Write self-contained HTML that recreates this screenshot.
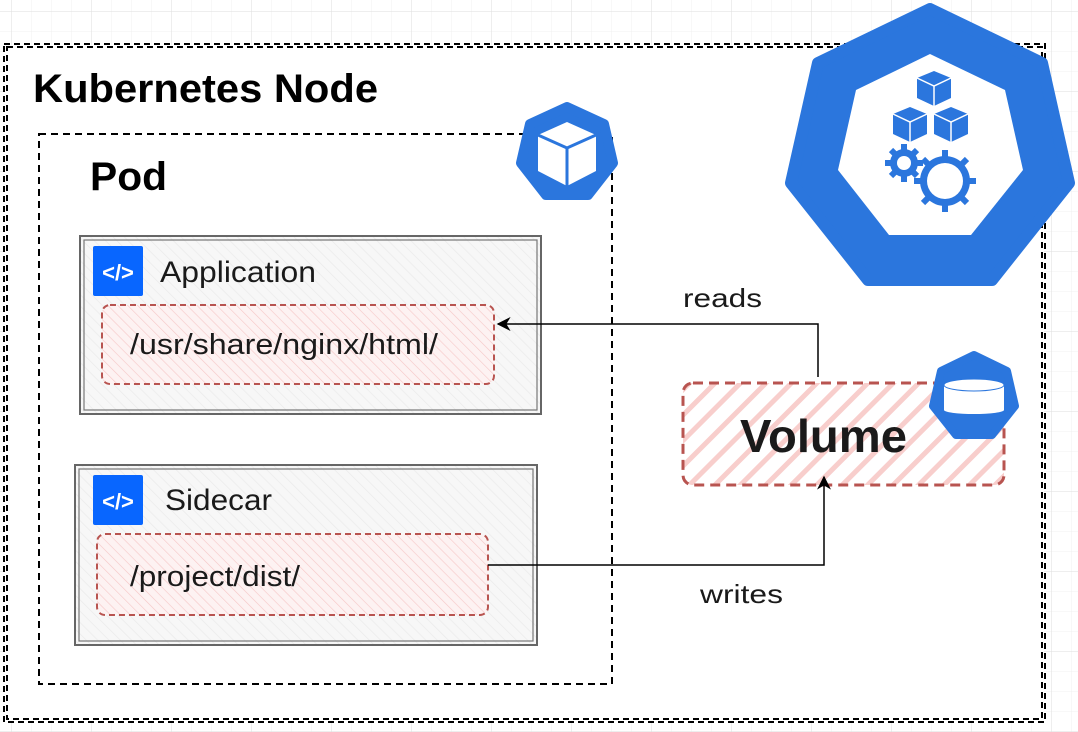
<!DOCTYPE html>
<html><head><meta charset="utf-8"><style>
html,body{margin:0;padding:0;width:1078px;height:732px;overflow:hidden;background:#fff}
svg{display:block}
text{font-family:"Liberation Sans",Arial,sans-serif}
</style></head><body>
<svg width="1078" height="732" viewBox="0 0 1078 732" xmlns="http://www.w3.org/2000/svg">
<defs>
<pattern id="g1" x="12" y="12" width="20" height="20" patternUnits="userSpaceOnUse"><path d="M20 0V20M0 20H20" stroke="#f0f0f0" stroke-width="1" fill="none"/></pattern>
<pattern id="g2" x="12" y="12" width="80" height="80" patternUnits="userSpaceOnUse"><path d="M80 0V80M0 80H80" stroke="#dedede" stroke-width="1" fill="none"/></pattern>
<pattern id="hg" width="8" height="8" patternUnits="userSpaceOnUse" patternTransform="rotate(-45)"><rect width="8" height="8" fill="#f7f7f7"/><line x1="0" y1="0" x2="0" y2="8" stroke="#ebebeb" stroke-width="1.5"/></pattern>
<pattern id="hr" width="7" height="7" patternUnits="userSpaceOnUse" patternTransform="rotate(-45)"><rect width="7" height="7" fill="#fdf2f2"/><line x1="0" y1="0" x2="0" y2="7" stroke="#f6c6c6" stroke-width="1.2"/></pattern>
<pattern id="hv" width="18" height="18" patternUnits="userSpaceOnUse" patternTransform="rotate(45)"><rect width="18" height="18" fill="#fff"/><line x1="0" y1="0" x2="0" y2="18" stroke="#f8cecc" stroke-width="10"/></pattern>
<marker id="ar" viewBox="0 0 10 10" refX="9" refY="5" markerWidth="14" markerHeight="14" orient="auto" markerUnits="userSpaceOnUse"><path d="M0 0L10 5L0 10L3 5Z" fill="#000"/></marker>
</defs>
<rect width="1078" height="732" fill="#fff"/>
<rect width="1078" height="732" fill="url(#g1)"/>
<rect width="1078" height="732" fill="url(#g2)"/>
<!-- node -->
<rect x="5" y="45" width="1039" height="676" fill="#fff"/>
<rect x="4" y="44" width="1041" height="678" fill="none" stroke="#000" stroke-width="2" stroke-dasharray="6 4"/>
<rect x="7" y="47" width="1035" height="672" fill="none" stroke="#000" stroke-width="2" stroke-dasharray="6 4"/>
<text x="33" y="102" font-size="40" font-weight="bold" fill="#000" textLength="345" lengthAdjust="spacingAndGlyphs">Kubernetes Node</text>
<!-- pod -->
<rect x="39" y="134" width="573" height="550" fill="none" stroke="#000" stroke-width="2" stroke-dasharray="7 5"/>
<text x="90" y="190" font-size="40" font-weight="bold" fill="#000" textLength="77" lengthAdjust="spacingAndGlyphs">Pod</text>
<!-- application -->
<rect x="80" y="236" width="461" height="178" fill="url(#hg)" stroke="#666" stroke-width="2"/>
<rect x="84" y="240" width="453" height="170" fill="none" stroke="#777" stroke-width="1.2"/>
<rect x="93" y="246" width="50" height="50" rx="2" fill="#0866ff"/>
<text x="118" y="280" font-size="22" font-weight="bold" fill="#fff" text-anchor="middle">&lt;/&gt;</text>
<text x="160" y="282" font-size="30" fill="#1a1a1a" textLength="156" lengthAdjust="spacingAndGlyphs">Application</text>
<rect x="102" y="305" width="392" height="79" rx="8" fill="url(#hr)" stroke="#b85450" stroke-width="2" stroke-dasharray="6 4"/>
<text x="130" y="354" font-size="29" fill="#1a1a1a" textLength="308" lengthAdjust="spacingAndGlyphs">/usr/share/nginx/html/</text>
<!-- sidecar -->
<rect x="75" y="465" width="462" height="180" fill="url(#hg)" stroke="#666" stroke-width="2"/>
<rect x="79" y="469" width="454" height="172" fill="none" stroke="#777" stroke-width="1.2"/>
<rect x="93" y="475" width="50" height="50" rx="2" fill="#0866ff"/>
<text x="118" y="509" font-size="22" font-weight="bold" fill="#fff" text-anchor="middle">&lt;/&gt;</text>
<text x="165" y="510" font-size="30" fill="#1a1a1a" textLength="107" lengthAdjust="spacingAndGlyphs">Sidecar</text>
<rect x="97" y="534" width="391" height="81" rx="8" fill="url(#hr)" stroke="#b85450" stroke-width="2" stroke-dasharray="6 4"/>
<text x="130" y="586" font-size="29" fill="#1a1a1a" textLength="170" lengthAdjust="spacingAndGlyphs">/project/dist/</text>
<!-- pod icon -->
<polygon points="567,107 604,124 613,163 588,195 546,195 521,163 530,124" fill="#2b76dd" stroke="#2b76dd" stroke-width="10" stroke-linejoin="round"/>
<polygon points="567,122 596,135 596,171 567,186 538,171 538,135" fill="#fff"/>
<polyline points="538,135 567,148 596,135" fill="none" stroke="#2b76dd" stroke-width="3"/>
<line x1="567" y1="148" x2="567" y2="186" stroke="#2b76dd" stroke-width="3"/>
<!-- big icon -->
<polygon points="930,9 1042,63 1069,183 992,280 868,280 791,183 818,63" fill="#2b76dd" stroke="#2b76dd" stroke-width="12" stroke-linejoin="round"/>
<polygon points="930,54 1005,90 1023,170 971,235 889,235 838,170 856,90" fill="#fff"/>
<g fill="#2b76dd">
<polygon points="917,78 934,71 951,78 951,98 934,106 917,98"/>
<polygon points="893,114 910,107 927,114 927,134 910,142 893,134"/>
<polygon points="934,114 951,107 968,114 968,134 951,142 934,134"/>
<circle cx="904" cy="163" r="14"/>
<circle cx="945" cy="181" r="25"/>
</g>
<g stroke="#2b76dd" stroke-width="6" stroke-linecap="butt">
<line x1="904" y1="144" x2="904" y2="182"/><line x1="885" y1="163" x2="923" y2="163"/>
<line x1="891" y1="150" x2="917" y2="176"/><line x1="917" y1="150" x2="891" y2="176"/>
<line x1="945" y1="150" x2="945" y2="212"/><line x1="914" y1="181" x2="976" y2="181"/>
<line x1="923" y1="159" x2="967" y2="203"/><line x1="967" y1="159" x2="923" y2="203"/>
</g>
<circle cx="904" cy="163" r="7" fill="#fff"/>
<circle cx="945" cy="181" r="18" fill="#fff"/>
<polyline points="917,78 934,86 951,78" fill="none" stroke="#fff" stroke-width="1.5"/>
<line x1="934" y1="86" x2="934" y2="106" stroke="#fff" stroke-width="1.5"/>
<polyline points="893,114 910,122 927,114" fill="none" stroke="#fff" stroke-width="1.5"/>
<line x1="910" y1="122" x2="910" y2="142" stroke="#fff" stroke-width="1.5"/>
<polyline points="934,114 951,122 968,114" fill="none" stroke="#fff" stroke-width="1.5"/>
<line x1="951" y1="122" x2="951" y2="142" stroke="#fff" stroke-width="1.5"/>
<!-- volume -->
<rect x="683" y="383" width="321" height="102" rx="10" fill="url(#hv)" stroke="#b85450" stroke-width="3" stroke-dasharray="10 6"/>
<text x="740" y="452" font-size="46" font-weight="bold" fill="#1a1a1a" textLength="167" lengthAdjust="spacingAndGlyphs">Volume</text>
<polygon points="974,355 1007,371 1015,406 992,435 956,435 933,406 941,371" fill="#2b76dd" stroke="#2b76dd" stroke-width="8" stroke-linejoin="round"/>
<rect x="944" y="385" width="60" height="25" fill="#fff"/>
<ellipse cx="974" cy="410" rx="30" ry="4" fill="#fff"/>
<ellipse cx="974" cy="385" rx="30" ry="6" fill="#fff" stroke="#2b76dd" stroke-width="1"/>
<!-- connectors -->
<polyline points="818,377 818,324 498,324" fill="none" stroke="#000" stroke-width="1.5" marker-end="url(#ar)"/>
<text x="683" y="307" font-size="26" fill="#1a1a1a" textLength="79" lengthAdjust="spacingAndGlyphs">reads</text>
<polyline points="488,565 824,565 824,477" fill="none" stroke="#000" stroke-width="1.5" marker-end="url(#ar)"/>
<text x="700" y="603" font-size="26" fill="#1a1a1a" textLength="83" lengthAdjust="spacingAndGlyphs">writes</text>
</svg>
</body></html>
